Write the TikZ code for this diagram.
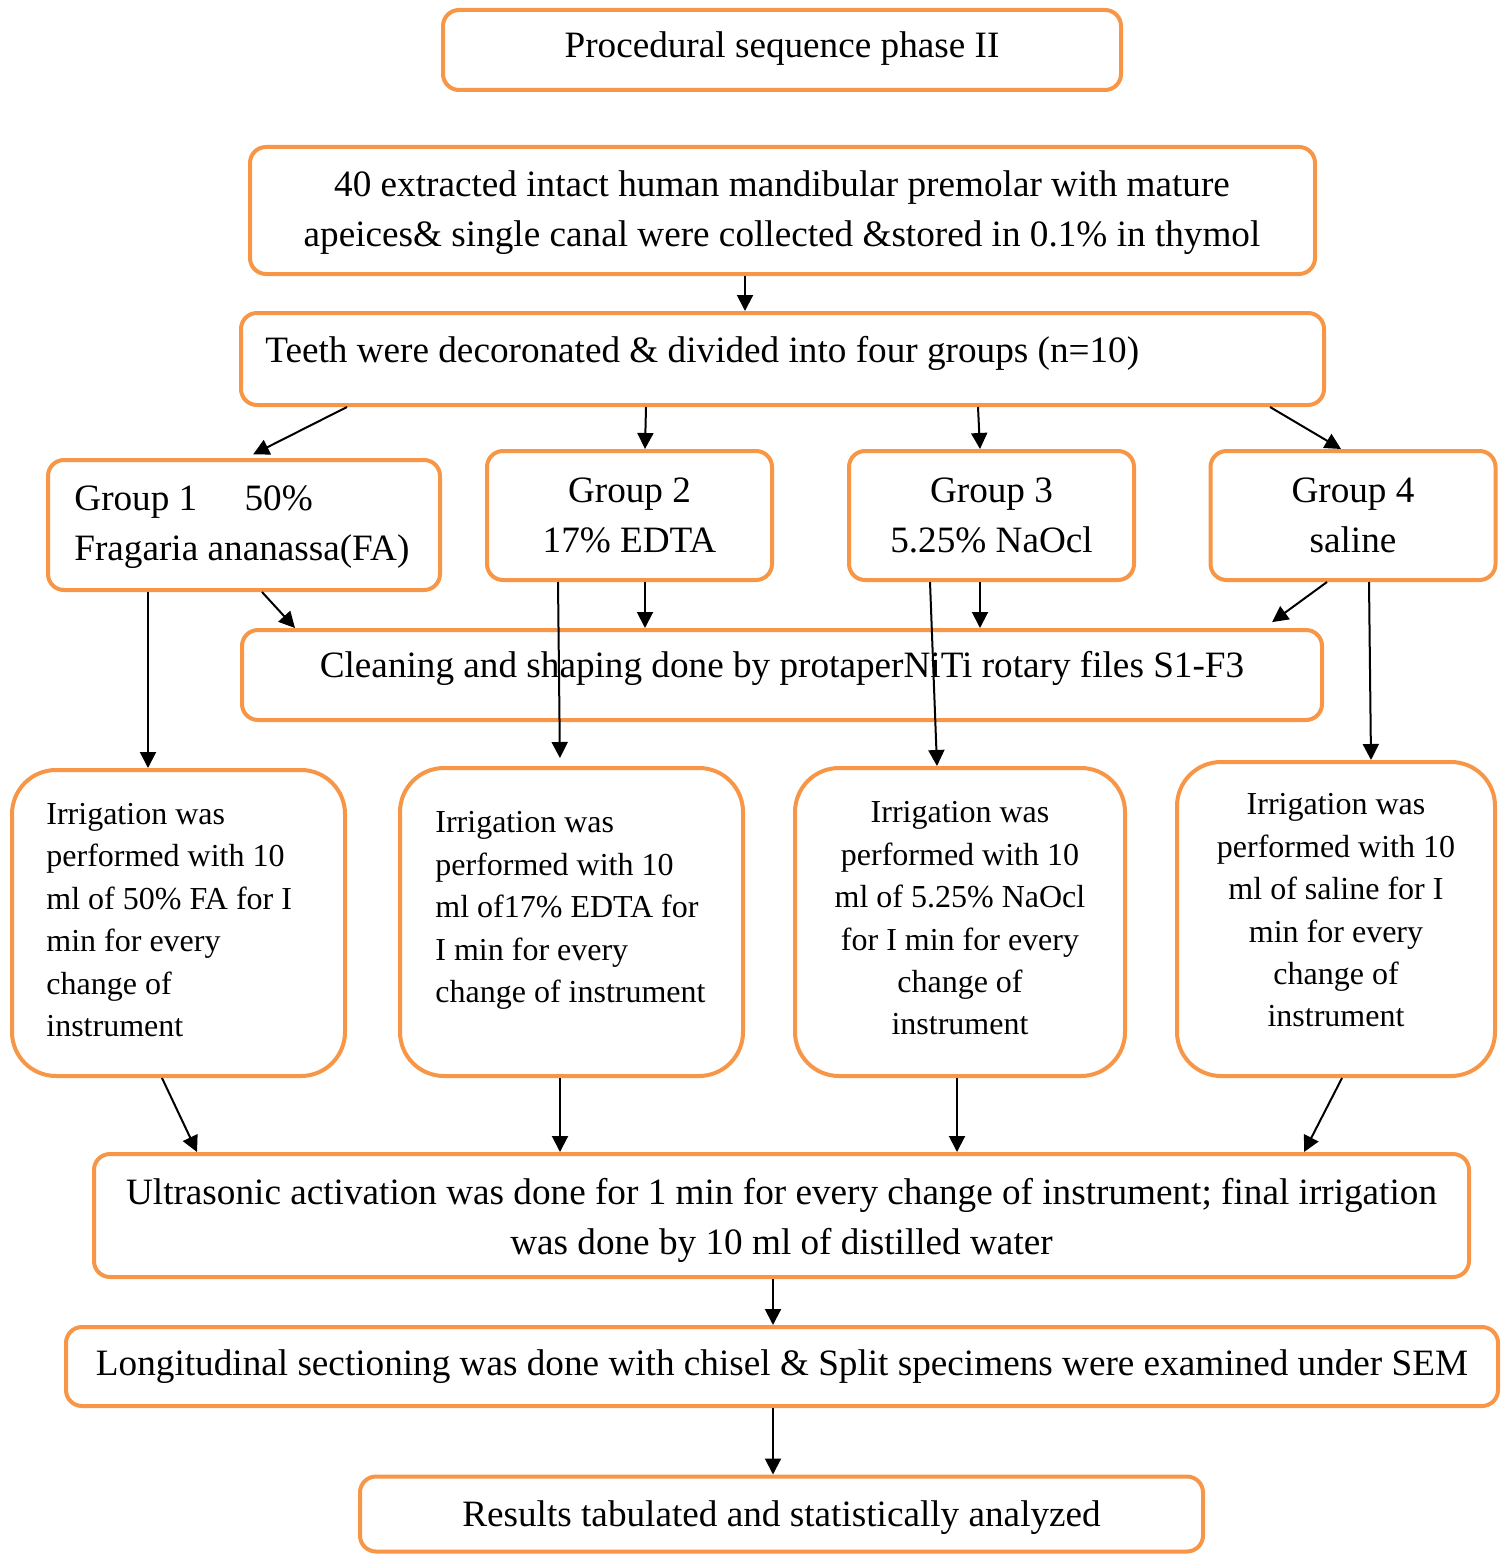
\documentclass[tikz,border=0pt]{standalone}
\usepackage{fontspec}
\setmainfont{Liberation Serif}
\usetikzlibrary{arrows.meta}
\usepackage{xcolor}
\definecolor{boxorange}{HTML}{F79646}

\begin{document}
\begin{tikzpicture}[x=0.5pt, y=-0.5pt]
        % ================= styles =================
        \tikzset{
            % orange rounded frame
            stepbox/.style={draw=boxorange, line width=2pt, rounded corners=8pt, fill=white, inner sep=0pt},
            % irrigation frames, rounder
            irrbox/.style={stepbox, rounded corners=22pt},
            % main text
            bigtxt/.style={inner sep=0pt, align=center, font=\fontsize{18.6}{25}\selectfont},
            % irrigation text
            smalltxt/.style={inner sep=0pt, align=center, font=\fontsize{16}{21.2}\selectfont},
            % black arrows
            arr/.style={-{Triangle[length=8pt, width=8pt]}, line width=1pt, black}
        }
        \useasboundingbox (0,0) rectangle (1508,1557);

        % ================= frames =================
        \node[stepbox, minimum width=339pt, minimum height=40pt] (title) at (782,50) {};
        \node[stepbox, minimum width=532.5pt, minimum height=63.5pt] (src) at (782.5,210.5) {};
        \node[stepbox, minimum width=541.5pt, minimum height=46pt] (teeth) at (782.5,359) {};
        \node[stepbox, minimum width=196pt, minimum height=65pt] (g1) at (244,525) {};
        \node[stepbox, minimum width=142.5pt, minimum height=64.5pt] (g2) at (629.5,515.5) {};
        \node[stepbox, minimum width=142.5pt, minimum height=64.5pt] (g3) at (991.5,515.5) {};
        \node[stepbox, minimum width=142.5pt, minimum height=64.5pt] (g4) at (1353,515.5) {};
        \node[stepbox, minimum width=540pt, minimum height=45pt] (clean) at (782,675) {};
        \node[irrbox, minimum width=166.5pt, minimum height=153pt] (irr1) at (178.5,923) {};
        \node[irrbox, minimum width=171.5pt, minimum height=154pt] (irr2) at (571.5,922) {};
        \node[irrbox, minimum width=165pt, minimum height=154pt] (irr3) at (960,922) {};
        \node[irrbox, minimum width=159pt, minimum height=157pt] (irr4) at (1336,919) {};
        \node[stepbox, minimum width=687.5pt, minimum height=61.5pt] (ultra) at (781.5,1215.5) {};
        \node[stepbox, minimum width=716pt, minimum height=39.5pt] (longi) at (782,1366.5) {};
        \node[stepbox, minimum width=421.5pt, minimum height=37.5pt] (results) at (781.5,1514) {};

        % ================= texts =================
        \node[bigtxt] (titletxt) at (782,49) {Procedural sequence phase II};
        \node[bigtxt] (srctxt) at (782,213) {40 extracted intact human mandibular premolar with mature\\apeices\& single canal were collected \&stored in 0.1\% in thymol};
        \node[bigtxt, anchor=west] (teethtxt) at (265,353) {Teeth were decoronated \& divided into four groups (n=10)};
        \node[bigtxt, align=left, anchor=west] (g1txt) at (74,527) {Group 1\hspace{19pt} 50\%\\Fragaria ananassa(FA)};
        \node[bigtxt] (g2txt) at (629.5,515) {Group 2\\17\% EDTA};
        \node[bigtxt] (g3txt) at (991.5,515) {Group 3\\5.25\% NaOcl};
        \node[bigtxt] (g4txt) at (1353,515) {Group 4\\saline};
        \node[bigtxt] (cleantxt) at (782,668) {Cleaning and shaping done by protaperNiTi rotary files S1-F3};
        \node[smalltxt, align=left, anchor=west] (irr1txt) at (46,920) {Irrigation was\\performed with 10\\ml of 50\% FA for I\\min for every\\change of\\instrument};
        \node[smalltxt, align=left, anchor=west] (irr2txt) at (435,910.5) {Irrigation was\\performed with 10\\ml of17\% EDTA for\\I min for every\\change of instrument};
        \node[smalltxt] (irr3txt) at (960,918.5) {Irrigation was\\performed with 10\\ml of 5.25\% NaOcl\\for I min for every\\change of\\instrument};
        \node[smalltxt] (irr4txt) at (1336,910.5) {Irrigation was\\performed with 10\\ml of saline for I\\min for every\\change of\\instrument};
        \node[bigtxt] (ultratxt) at (781.5,1220) {Ultrasonic activation was done for 1 min for every change of instrument; final irrigation\\was done by 10 ml of distilled water};
        \node[bigtxt] (longitxt) at (782,1367) {Longitudinal sectioning was done with chisel \& Split specimens were examined under SEM};
        \node[bigtxt] (resultstxt) at (781.5,1518) {Results tabulated and statistically analyzed};

        % ================= arrows =================
        \draw[arr] (src.south -| 745,0) -- (teeth.north -| 745,0);
        % teeth -> groups
        \draw[arr, shorten >=4pt] (teeth.south -| 347,0) -- (g1.north -| 246,0);
        \draw[arr] (teeth.south -| 646,0) -- (g2.north -| 645,0);
        \draw[arr] (teeth.south -| 978,0) -- (g3.north -| 980,0);
        \draw[arr] (teeth.south -| 1270,0) -- (g4.north -| 1341,0);
        % groups -> cleaning
        \draw[arr] (g1.south -| 262,0) -- (clean.north -| 295,0);
        \draw[arr] (g2.south -| 645,0) -- (clean.north -| 645,0);
        \draw[arr] (g3.south -| 980,0) -- (clean.north -| 980,0);
        \draw[arr, shorten >=5pt] (g4.south -| 1327,0) -- (clean.north -| 1264,0);
        % groups -> irrigation
        \draw[arr] (g1.south -| 148,0) -- (irr1.north -| 148,0);
        \draw[arr, shorten >=4pt] (g2.south -| 558,0) -- (irr2.north -| 560,0);
        \draw[arr] (g3.south -| 930,0) -- (irr3.north -| 937,0);
        \draw[arr] (g4.south -| 1369,0) -- (irr4.north -| 1371,0);
        % irrigation -> ultrasonic
        \draw[arr] (irr1.south -| 162,0) -- (ultra.north -| 197,0);
        \draw[arr] (irr2.south -| 560,0) -- (ultra.north -| 560,0);
        \draw[arr] (irr3.south -| 957,0) -- (ultra.north -| 957,0);
        \draw[arr] (irr4.south -| 1342,0) -- (ultra.north -| 1304,0);
        % last steps
        \draw[arr] (ultra.south -| 773,0) -- (longi.north -| 773,0);
        \draw[arr] (longi.south -| 773,0) -- (results.north -| 773,0);

    \end{tikzpicture}
\end{document}
